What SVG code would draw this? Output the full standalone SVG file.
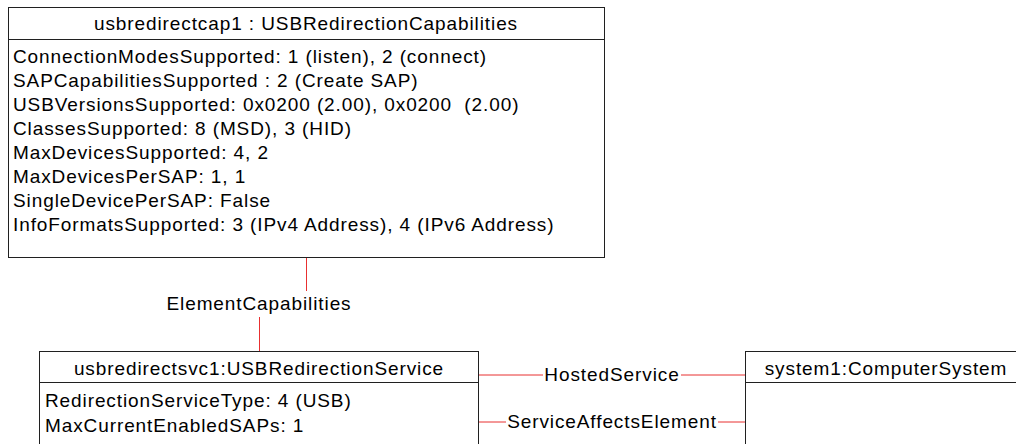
<svg xmlns="http://www.w3.org/2000/svg" width="1016" height="444" viewBox="0 0 1016 444">
<style>
.box{fill:#fff;stroke:#202020;stroke-width:1}
.sep{stroke:#202020;stroke-width:1}
.t{font-family:"Liberation Sans",Arial,sans-serif;font-size:19px;letter-spacing:0.9px;fill:#000}
.c{text-anchor:middle}
.con{stroke:#e83030;stroke-width:1;fill:none}
</style>
<rect width="1016" height="444" fill="#fff"/>
<g id="connectors">
<line class="con" x1="306.5" y1="258" x2="306.5" y2="291"/>
<line class="con" x1="259.5" y1="317" x2="259.5" y2="351"/>
<line class="con" x1="479" y1="375" x2="543" y2="375"/>
<line class="con" x1="681" y1="375" x2="745" y2="375"/>
<line class="con" x1="479" y1="422" x2="506" y2="422"/>
<line class="con" x1="718" y1="422" x2="745" y2="422"/>
<text class="t c" x="259" y="310">ElementCapabilities</text>
<text class="t c" x="612" y="381">HostedService</text>
<text class="t c" x="612" y="428">ServiceAffectsElement</text>
</g>
<g id="usbredirectcap1">
<rect class="box" x="8.5" y="7.5" width="596" height="250"/>
<line class="sep" x1="8.5" y1="39.5" x2="604.5" y2="39.5"/>
<text class="t c" x="306" y="30">usbredirectcap1 : USBRedirectionCapabilities</text>
<text class="t" x="13" y="63">ConnectionModesSupported: 1 (listen), 2 (connect)</text>
<text class="t" x="13" y="87">SAPCapabilitiesSupported : 2 (Create SAP)</text>
<text class="t" x="13" y="111" xml:space="preserve">USBVersionsSupported: 0x0200 (2.00), 0x0200  (2.00)</text>
<text class="t" x="13" y="135">ClassesSupported: 8 (MSD), 3 (HID)</text>
<text class="t" x="13" y="159">MaxDevicesSupported: 4, 2</text>
<text class="t" x="13" y="183">MaxDevicesPerSAP: 1, 1</text>
<text class="t" x="13" y="207">SingleDevicePerSAP: False</text>
<text class="t" x="13" y="231">InfoFormatsSupported: 3 (IPv4 Address), 4 (IPv6 Address)</text>
</g>
<g id="usbredirectsvc1">
<rect class="box" x="39.5" y="351.5" width="439" height="110"/>
<line class="sep" x1="39.5" y1="382.5" x2="478.5" y2="382.5"/>
<text class="t c" x="259" y="375">usbredirectsvc1:USBRedirectionService</text>
<text class="t" x="45" y="407">RedirectionServiceType: 4 (USB)</text>
<text class="t" x="45" y="432">MaxCurrentEnabledSAPs: 1</text>
</g>
<g id="system1">
<rect class="box" x="745.5" y="351.5" width="290" height="110"/>
<line class="sep" x1="745.5" y1="382.5" x2="1035.5" y2="382.5"/>
<text class="t c" x="886" y="375">system1:ComputerSystem</text>
</g>
</svg>
